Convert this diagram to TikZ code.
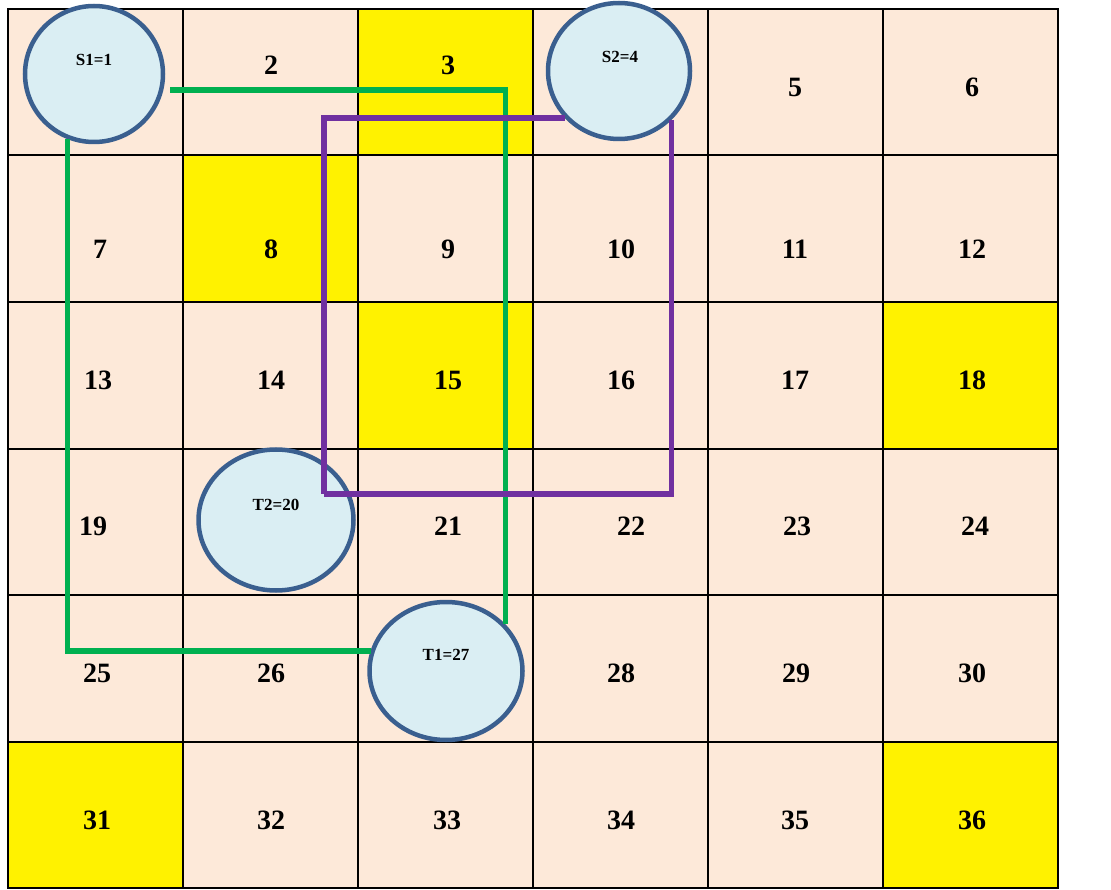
\documentclass[tikz,border=0pt]{standalone}
\usepackage{fontspec}
\setmainfont{Liberation Serif}
\usetikzlibrary{shapes.geometric}
\definecolor{peach}{HTML}{FDE9D9}
\definecolor{skyfill}{HTML}{DAEEF3}
\definecolor{ringblue}{HTML}{3A5F8F}
\definecolor{pathgreen}{HTML}{00B050}
\definecolor{pathpurple}{HTML}{7030A0}

\begin{document}
\begin{tikzpicture}[x=1pt,y=-1pt,
  cell/.style={draw,line width=2pt,fill=peach,inner sep=0pt,
               minimum width=175pt,minimum height=146.5pt},
  num/.style={font=\fontsize{28}{30}\selectfont\bfseries},
  term/.style={ellipse,draw=ringblue,line width=4.5pt,fill=skyfill,inner sep=0pt},
  tag/.style={font=\fontsize{17}{19}\selectfont\bfseries},
  route/.style={line width=5.5pt}]
  \useasboundingbox (0,0) rectangle (1111,890);
  % the 6x6 board
  \foreach \n in {1,...,36}{
    \pgfmathtruncatemacro\c{mod(\n-1,6)}
    \pgfmathtruncatemacro\r{div(\n-1,6)}
    \node[cell] (cell\n) at ({95.5+175*\c},{82.25+146.5*\r}) {};
  }
  \foreach \n in {3,8,15,18,31,36}
    \node[cell,fill=yellow] (mark\n) at (cell\n) {};
  % cell numbers
  \foreach \t/\x/\y in {2/271/65,3/448/65,5/795/87,6/972/87,
      7/100/249,8/271/249,9/448/249,10/621/249,11/795/249,12/972/249,
      13/98/380,14/271/380,15/448/380,16/621/380,17/795/380,18/972/380,
      19/93/526,21/448/526,22/631/526,23/797/526,24/975/526,
      25/97/673,26/271/673,28/621/673,29/796/673,30/972/673,
      31/97/820,32/271/820,33/447/820,34/621/820,35/795/820,36/972/820}
    \node[num] (n\t) at (\x,\y) {\t};
  % sources and targets
  \node[term,minimum width=138pt,minimum height=136pt] (s1) at (94,74) {};
  \node[term,minimum width=142pt,minimum height=136pt] (s2) at (619,71) {};
  \node[term,minimum width=155pt,minimum height=141pt] (t2) at (276,520) {};
  \node[term,minimum width=153pt,minimum height=138pt] (t1) at (446,671) {};
  \node[tag] (s1tag) at (94,60) {S1=1};
  \node[tag] (s2tag) at (620,57) {S2=4};
  \node[tag] (t2tag) at (276,505) {T2=20};
  \node[tag] (t1tag) at (446,655) {T1=27};
  % routes
  \coordinate (gstart) at (170,90);
  \draw[route,pathgreen] (gstart) -| (t1.38);
  \draw[route,pathgreen] (s1.248) |- (t1.165);
  \coordinate (pturn) at (324,494);
  \draw[route,pathpurple] (s2.221) -| (pturn);
  \draw[route,pathpurple] (s2.-43) |- (pturn);
\end{tikzpicture}
\end{document}
